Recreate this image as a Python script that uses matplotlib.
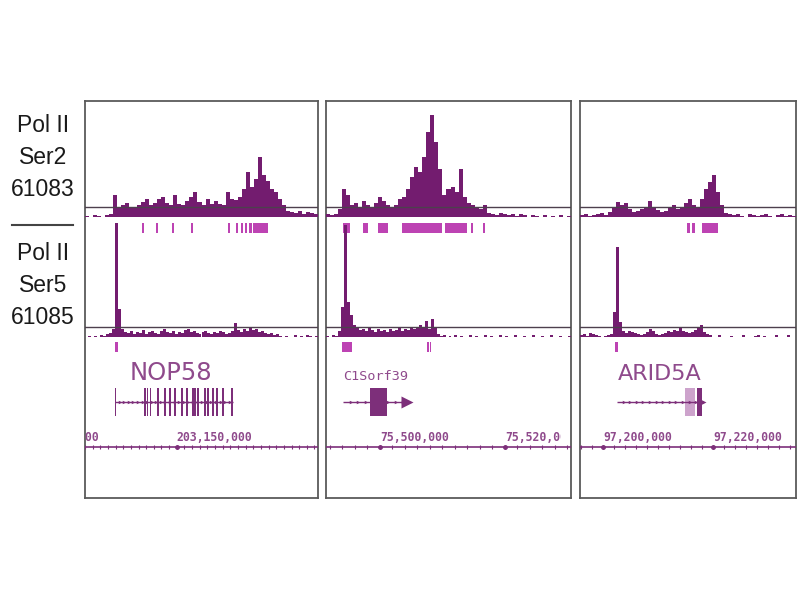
import numpy as np
import matplotlib
matplotlib.use("Agg")
import matplotlib.pyplot as plt
from matplotlib.lines import Line2D
from matplotlib.transforms import blended_transform_factory

W, H = 800, 600

# browser windows, all positions below are kb offsets from the window start
gene_names = ["NOP58", "C1Sorf39", "ARID5A"]
window_start = [203144.0, 75491.36, 97195.82]
window_span = [15.23, 39.2, 39.27]
major_ticks = [[203140, 203150], [75500, 75520], [97200, 97220]]
minor_step = [0.5, 2.0, 2.0]

# Pol II Ser2 (61083) coverage
ser2_nop58 = [1, 0, 2, 1, 0, 2, 3, 22, 10, 12, 14, 10, 9, 12, 15, 18, 12, 14, 18, 20,
              14, 12, 22, 13, 12, 16, 20, 25, 15, 12, 18, 13, 16, 13, 12, 25, 18, 17, 20, 28,
              45, 30, 38, 60, 42, 36, 28, 25, 18, 12, 6, 5, 4, 6, 3, 5, 4, 3]
ser2_c1orf39 = [3, 2, 3, 8, 28, 22, 12, 14, 10, 16, 12, 10, 14, 20, 16, 12, 10, 12, 18, 20,
                28, 40, 50, 45, 60, 85, 102, 75, 48, 22, 28, 30, 25, 48, 20, 14, 12, 10, 8, 12,
                4, 3, 2, 4, 3, 2, 3, 1, 3, 2, 0, 2, 1, 0, 2, 0, 1, 0, 2, 0, 1]
ser2_arid5a = [2, 3, 1, 2, 3, 4, 2, 5, 10, 15, 12, 14, 8, 5, 6, 8, 10, 16, 10, 7,
               5, 6, 10, 12, 8, 10, 14, 18, 12, 10, 18, 28, 35, 42, 25, 12, 4, 3, 2, 3,
               1, 0, 3, 2, 1, 2, 3, 1, 0, 2, 3, 1, 2, 1]

# Pol II Ser5 (61085) coverage
ser5_nop58 = [0, 1, 0, 1, 0, 2, 1, 3, 4, 8, 114, 28, 8, 5, 4, 6, 3, 5, 4, 7,
              3, 5, 6, 4, 3, 6, 8, 5, 4, 6, 3, 5, 4, 7, 8, 5, 6, 4, 3, 5,
              6, 4, 3, 5, 4, 6, 5, 3, 4, 6, 14, 7, 5, 8, 6, 9, 7, 8, 5, 6,
              4, 3, 4, 2, 3, 1, 0, 1, 0, 0, 2, 0, 1, 0, 2, 1, 0, 1]
ser5_c1orf39 = [1, 0, 2, 1, 6, 30, 112, 35, 22, 12, 10, 7, 8, 6, 9, 7, 5, 8, 6, 7,
                5, 8, 6, 7, 9, 6, 8, 7, 10, 8, 9, 12, 10, 16, 8, 18, 10, 3, 1, 2,
                0, 1, 0, 2, 0, 1, 0, 0, 2, 0, 1, 0, 0, 2, 0, 1, 0, 0, 2, 0,
                1, 0, 0, 2, 0, 0, 1, 0, 0, 2, 0, 0, 1, 0, 0, 2, 0, 0, 1, 0, 0, 1]
ser5_arid5a = [2, 3, 1, 4, 3, 2, 1, 0, 1, 2, 3, 25, 90, 15, 6, 4, 6, 5, 4, 3,
               2, 3, 5, 8, 6, 3, 2, 3, 4, 6, 5, 7, 6, 9, 6, 5, 4, 5, 7, 10,
               12, 5, 3, 2, 0, 0, 2, 0, 0, 0, 1, 0, 0, 0, 2, 0, 0, 0, 1, 2,
               0, 1, 0, 0, 0, 2, 0, 0, 0, 2, 0, 0]

# called peaks (start, end)
ser2_peaks = [
    [(1.96, 2.09), (3.73, 3.86), (4.64, 4.77), (5.69, 5.82), (6.93, 7.06), (9.35, 9.48),
     (9.87, 10.0), (10.2, 10.33), (10.46, 10.59), (10.72, 10.92), (10.98, 11.96)],
    [(2.72, 3.84), (5.92, 6.72), (8.32, 9.92), (12.16, 18.56), (19.04, 22.56),
     (23.2, 23.52), (25.12, 25.44)],
    [(19.45, 20.0), (20.36, 20.91), (22.18, 25.09)],
]
ser5_peaks = [
    [(1.96, 2.16)],
    [(2.56, 4.16), (16.16, 16.4), (16.56, 16.8)],
    [(6.36, 6.91)],
]

# gene models
gene_span = [(1.96, 9.67), (2.72, 12.96), (6.73, 22.36)]
gene_exons = [
    [(1.94, 2.0), (3.88, 3.96), (4.02, 4.1), (4.22, 4.3), (4.73, 4.82), (5.19, 5.27),
     (5.52, 5.6), (5.84, 5.92), (6.3, 6.38), (6.63, 6.71), (7.0, 7.12), (7.15, 7.26),
     (7.35, 7.43), (7.8, 7.88), (8.0, 8.08), (8.33, 8.41), (8.59, 8.67), (8.98, 9.06),
     (9.57, 9.67)],
    [(2.7, 2.78), (7.04, 9.76), (11.64, 11.74)],
    [(6.7, 6.78), (17.22, 17.32), (21.27, 22.18)],
]
gene_utr = [[], [], [(19.09, 20.91)]]
gene_arrow = [False, True, True]
name_pos = [2.94, 2.72, 6.9]

SIG = "#731c6f"
PEAK = "#bd43b3"
THRESH = "#4d404d"
GENE = "#7d2f7a"
NAME = "#8f4a8c"
FRAME = "#5a5a5a"

panel_px = [(85, 318), (326, 571), (580, 796)]

fig = plt.figure(figsize=(8, 6), dpi=100)


def px_axes(x0, y0, x1, y1, off=True):
    ax = fig.add_axes([x0 / W, 1 - y1 / H, (x1 - x0) / W, (y1 - y0) / H])
    if off:
        ax.set_axis_off()
    return ax


def coverage(ax, vals, span, top):
    n = len(vals)
    bw = span / n
    ax.bar(np.arange(n) * bw, vals, width=bw, align="edge", color=SIG, linewidth=0)
    ax.axhline(10, color=THRESH, lw=1.0)
    ax.set_xlim(0, span)
    ax.set_ylim(0, top)


def peaks(ax, ivals, span):
    ax.broken_barh([(a, b - a) for a, b in ivals], (0, 1), color=PEAK, linewidth=0)
    ax.set_xlim(0, span)
    ax.set_ylim(0, 1)


ser2_all = [ser2_nop58, ser2_c1orf39, ser2_arid5a]
ser5_all = [ser5_nop58, ser5_c1orf39, ser5_arid5a]
name_font = [("DejaVu Sans", 17.5), ("DejaVu Sans Mono", 9.7), ("DejaVu Sans", 16)]

for i, (x0, x1) in enumerate(panel_px):
    span = window_span[i]
    start = window_start[i]

    frame = px_axes(x0, 101, x1, 498, off=False)
    frame.set_xticks([])
    frame.set_yticks([])
    for s in frame.spines.values():
        s.set_color(FRAME)
        s.set_linewidth(1.3)

    coverage(px_axes(x0, 110, x1, 217), ser2_all[i], span, 107)
    peaks(px_axes(x0, 223, x1, 233), ser2_peaks[i], span)
    coverage(px_axes(x0, 222, x1, 337), ser5_all[i], span, 115)
    peaks(px_axes(x0, 342, x1, 352), ser5_peaks[i], span)

    # gene model
    ag = px_axes(x0, 386, x1, 418)
    ag.set_xlim(0, span)
    ag.set_ylim(-1, 1)
    g0, g1 = gene_span[i]
    ag.hlines(0, g0, g1, color=GENE, lw=1.0)
    chev = np.arange(g0 + 0.6 * minor_step[i], g1, 0.6 * minor_step[i])
    ag.plot(chev, np.zeros(len(chev)), ">", ms=2.5, color=GENE, mec="none")
    if gene_utr[i]:
        ag.broken_barh([(a, b - a) for a, b in gene_utr[i]], (-0.9, 1.8),
                       color="#cda3cc", linewidth=0)
    ag.broken_barh([(a, b - a) for a, b in gene_exons[i]], (-0.9, 1.8),
                   color=GENE, linewidth=0)
    if gene_arrow[i]:
        ag.plot(g1, 0, ">", ms=8 if i == 1 else 5, color=GENE, mec="none")
    fam, fs = name_font[i]
    ag.text(name_pos[i], 1.2, gene_names[i], fontsize=fs, family=fam, color=NAME,
            transform=blended_transform_factory(ag.transData, ag.transAxes),
            ha="left", va="baseline")

    # coordinate ruler
    ar = px_axes(x0, 430, x1, 460)
    ar.set_xlim(0, span)
    ar.set_ylim(0, 1)
    ar.axhline(0.433, color=GENE, lw=1.2)
    first = np.ceil(start / minor_step[i]) * minor_step[i]
    minors = np.arange(first, start + span, minor_step[i]) - start
    ar.plot(minors, np.full(len(minors), 0.433), "|", ms=3, color=GENE, mew=0.8)
    ticks = np.array(major_ticks[i]) - start
    ar.plot(ticks, np.full(len(ticks), 0.433), "o", ms=2.5, color=GENE)
    # labels are cut a little inside the right border, like the browser does
    label_box = px_axes(x0, 425, x1 - 10, 446)
    for t, tv in zip(ticks, major_ticks[i]):
        txt = ar.text(t, 0.633, f"{int(tv * 1000):,}", ha="left", va="baseline",
                      fontsize=8.3, family="DejaVu Sans Mono", weight="bold",
                      color=NAME, clip_on=True)
        txt.set_clip_path(label_box.patch)

# track labels on the left
for label, yc in [("Pol II\nSer2\n61083", 158), ("Pol II\nSer5\n61085", 286)]:
    fig.text(43 / W, 1 - yc / H, label, ha="center", va="center",
             multialignment="center", fontsize=16.5, family="Liberation Sans",
             linespacing=1.5, color="#1a1a1a")
fig.add_artist(Line2D([12 / W, 73 / W], [1 - 225 / H, 1 - 225 / H],
                      color="#444444", lw=1.5))

fig.savefig("out.png", dpi=100, facecolor="white")
